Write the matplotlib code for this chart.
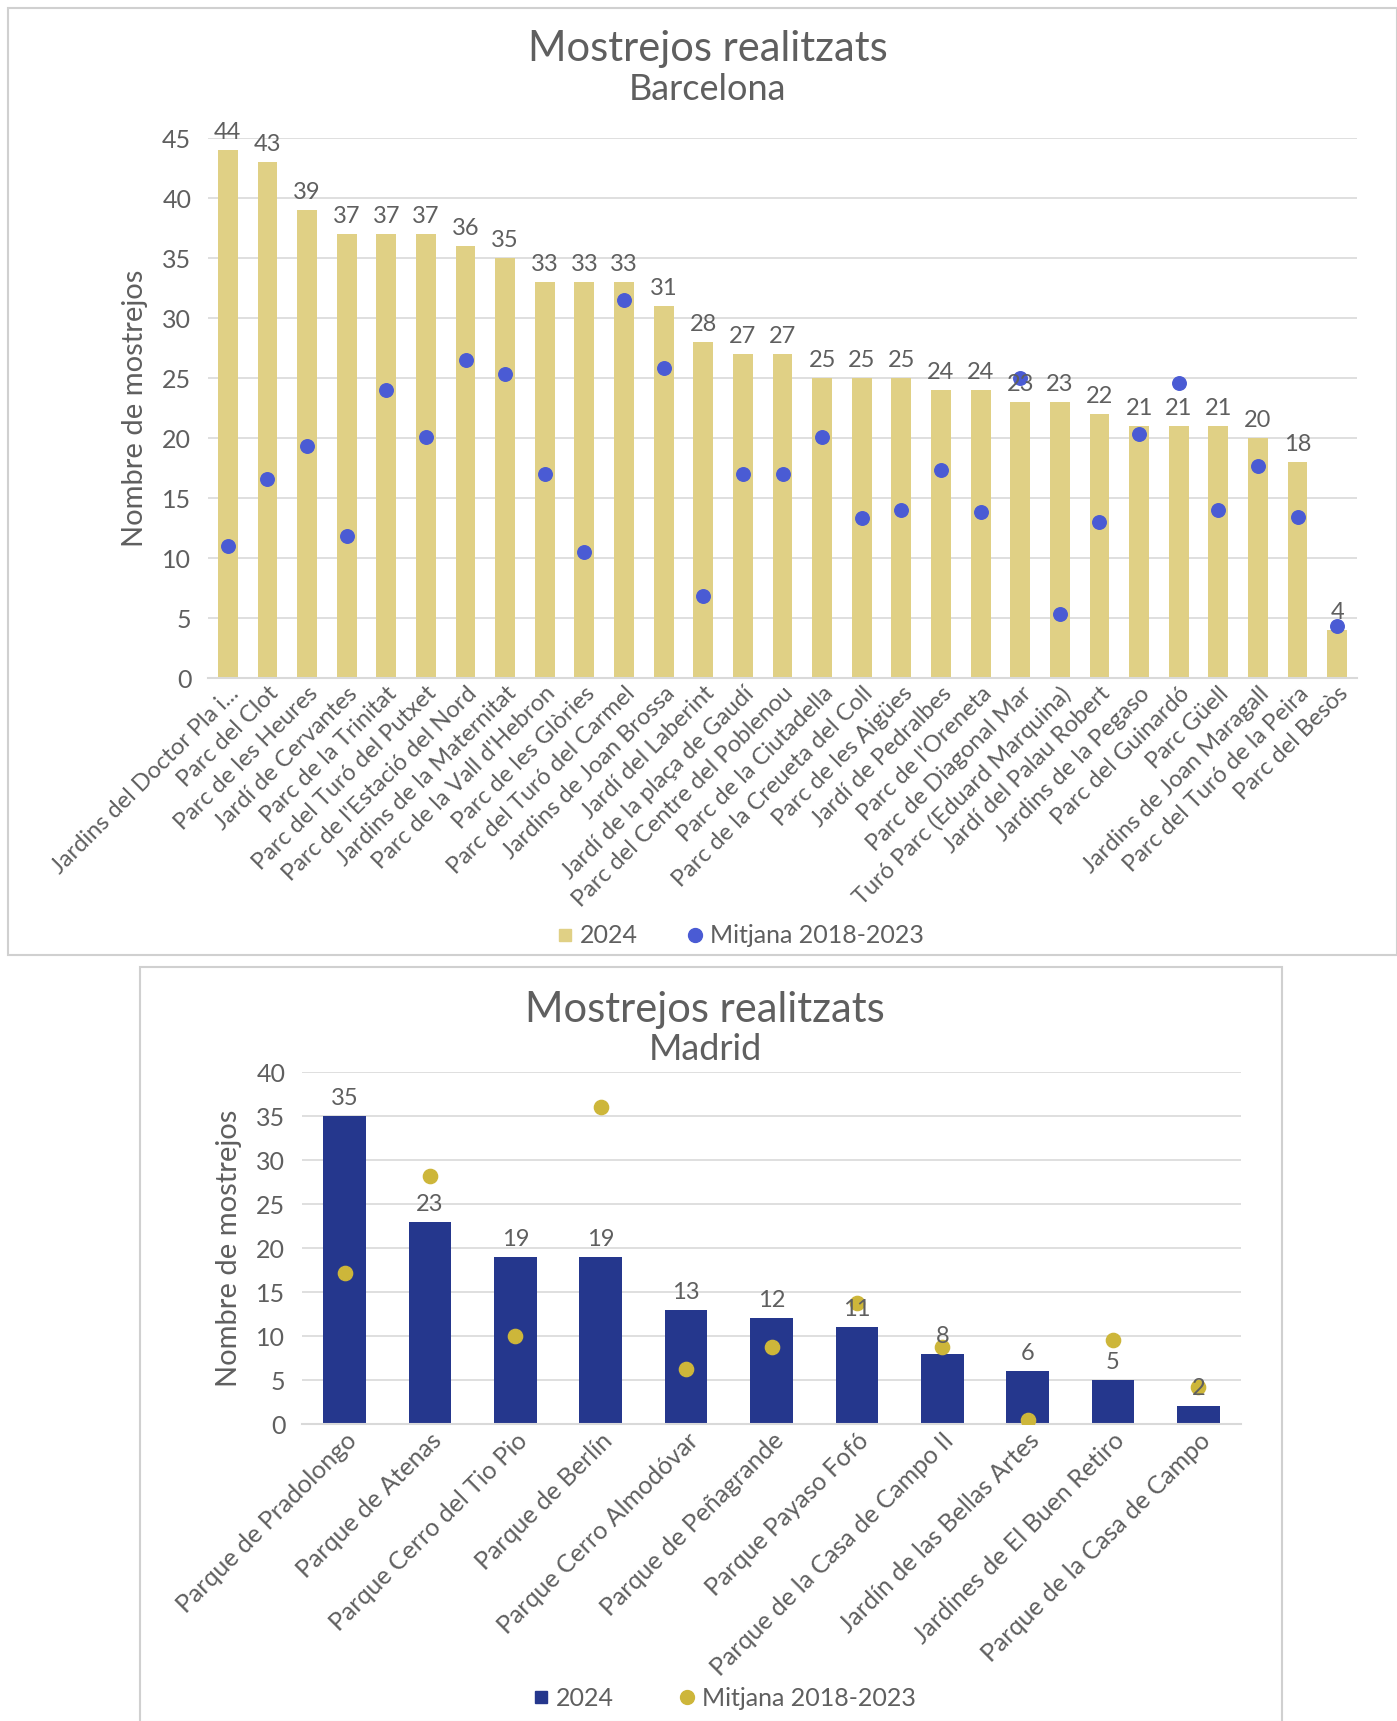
import matplotlib
matplotlib.use("Agg")
import matplotlib.pyplot as plt
from matplotlib.patches import Rectangle
from matplotlib.lines import Line2D
import numpy as np

plt.rcParams['font.family'] = ['Lato', 'DejaVu Sans']

# Barcelona
bcn_parks = ["Jardins del Doctor Pla i...", "Parc del Clot", "Parc de les Heures",
             "Jardí de Cervantes", "Parc de la Trinitat", "Parc del Turó del Putxet",
             "Parc de l'Estació del Nord", "Jardins de la Maternitat",
             "Parc de la Vall d'Hebron", "Parc de les Glòries", "Parc del Turó del Carmel",
             "Jardins de Joan Brossa", "Jardí del Laberint", "Jardí de la plaça de Gaudí",
             "Parc del Centre del Poblenou", "Parc de la Ciutadella",
             "Parc de la Creueta del Coll", "Parc de les Aigües", "Jardí de Pedralbes",
             "Parc de l'Oreneta", "Parc de Diagonal Mar", "Turó Parc (Eduard Marquina)",
             "Jardí del Palau Robert", "Jardins de la Pegaso", "Parc del Guinardó",
             "Parc Güell", "Jardins de Joan Maragall", "Parc del Turó de la Peira",
             "Parc del Besòs"]
bcn_2024 = [44, 43, 39, 37, 37, 37, 36, 35, 33, 33, 33, 31, 28, 27, 27, 25, 25, 25,
            24, 24, 23, 23, 22, 21, 21, 21, 20, 18, 4]
bcn_mean = [11.0, 16.6, 19.3, 11.8, 24.0, 20.1, 26.5, 25.3, 17.0, 10.5, 31.5, 25.8,
            6.8, 17.0, 17.0, 20.1, 13.3, 14.0, 17.3, 13.8, 25.0, 5.3, 13.0, 20.3,
            24.6, 14.0, 17.7, 13.4, 4.3]

# Madrid
mad_parks = ["Parque de Pradolongo", "Parque de Atenas", "Parque Cerro del Tio Pio",
             "Parque de Berlín", "Parque Cerro Almodóvar", "Parque de Peñagrande",
             "Parque Payaso Fofó", "Parque de la Casa de Campo II",
             "Jardín de las Bellas Artes", "Jardines de El Buen Retiro",
             "Parque de la Casa de Campo"]
mad_2024 = [35, 23, 19, 19, 13, 12, 11, 8, 6, 5, 2]
mad_mean = [17.2, 28.2, 10.0, 36.0, 6.2, 8.7, 13.8, 8.8, 0.5, 9.6, 4.2]

W, H = 1397, 1721
fig = plt.figure(figsize=(W / 100, H / 100), dpi=100)
txt = '#5F5F5F'
grid = '#D9D9D9'


def fx(px):
    return px / W


def fy(py):
    return 1 - py / H


# panel frames
fig.patches.append(Rectangle((fx(8), fy(955)), fx(1389), 947 / H, transform=fig.transFigure,
                             fill=False, edgecolor='#D0D0D0', lw=1.5))
fig.patches.append(Rectangle((fx(140), fy(1722)), fx(1142), 755 / H, transform=fig.transFigure,
                             fill=False, edgecolor='#D0D0D0', lw=1.5))


def draw(ax, names, vals, means, bar_c, dot_c, ymax, step, bar_w, dot_s, lab_fs):
    x = np.arange(len(names))
    ax.bar(x, vals, width=bar_w, color=bar_c, zorder=2)
    ax.scatter(x, means, s=dot_s, color=dot_c, zorder=3)
    for xi, v in zip(x, vals):
        ax.annotate(str(v), (xi, v), xytext=(0, 5), textcoords='offset points',
                    ha='center', va='bottom', fontsize=17, color=txt)
    ax.set_xlim(-0.5, len(names) - 0.5)
    ax.set_ylim(0, ymax)
    ax.set_yticks(np.arange(0, ymax + 1, step))
    ax.grid(axis='y', color=grid, lw=1.2, zorder=0)
    ax.set_axisbelow(True)
    for s in ['top', 'right', 'left']:
        ax.spines[s].set_visible(False)
    ax.spines['bottom'].set_color(grid)
    ax.spines['bottom'].set_linewidth(1.5)
    ax.tick_params(length=0, colors=txt, labelsize=18)
    ax.tick_params(axis='y', pad=12)
    ax.set_xticks(x)
    ax.set_xticklabels(names, rotation=45, ha='right', rotation_mode='anchor',
                       fontsize=lab_fs, color=txt)
    ax.set_ylabel('Nombre de mostrejos', fontsize=21, color=txt, labelpad=10)


ax1 = fig.add_axes([fx(208), fy(678), fx(1357 - 208), (678 - 138) / H])
draw(ax1, bcn_parks, bcn_2024, bcn_mean, '#E0D085', '#4A5BD4', 45, 5, 0.5, 95, 17)
fig.text(fx(708), fy(49), 'Mostrejos realitzats', ha='center', va='center', fontsize=30, color=txt)
fig.text(fx(708), fy(89), 'Barcelona', ha='center', va='center', fontsize=26, color=txt)
h1 = [Line2D([], [], marker='s', ls='', color='#E0D085', markersize=9),
      Line2D([], [], marker='o', ls='', color='#4A5BD4', markersize=10)]
fig.legend(h1, ['2024', 'Mitjana 2018-2023'], loc='center', bbox_to_anchor=(fx(732), fy(936)),
           ncol=2, frameon=False, fontsize=18, labelcolor=txt, handletextpad=-0.4,
           columnspacing=1.3)

ax2 = fig.add_axes([fx(302), fy(1424), fx(1241 - 302), (1424 - 1072) / H])
draw(ax2, mad_parks, mad_2024, mad_mean, '#25378D', '#CDB63A', 40, 5, 0.5, 105, 18)
fig.text(fx(705), fy(1010), 'Mostrejos realitzats', ha='center', va='center', fontsize=30, color=txt)
fig.text(fx(705), fy(1050), 'Madrid', ha='center', va='center', fontsize=26, color=txt)
h2 = [Line2D([], [], marker='s', ls='', color='#25378D', markersize=9),
      Line2D([], [], marker='o', ls='', color='#CDB63A', markersize=10)]
fig.legend(h2, ['2024', 'Mitjana 2018-2023'], loc='center', bbox_to_anchor=(fx(716), fy(1698)),
           ncol=2, frameon=False, fontsize=18, labelcolor=txt, handletextpad=-0.4,
           columnspacing=1.9)

fig.savefig('out.png', dpi=100)
